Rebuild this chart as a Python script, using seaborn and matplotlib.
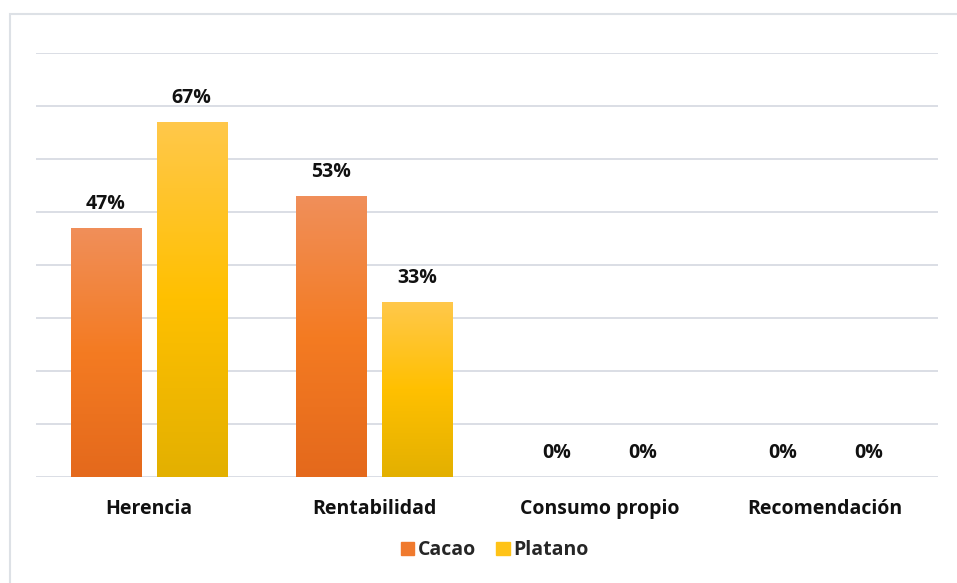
import matplotlib.pyplot as plt
import matplotlib.patches as mpatches
import numpy as np
import pandas as pd
import seaborn as sns
from matplotlib.colors import LinearSegmentedColormap

categories = ["Herencia", "Rentabilidad", "Consumo propio", "Recomendación"]
cacao = [0.47, 0.53, 0.0, 0.0]
platano = [0.67, 0.33, 0.0, 0.0]
series = ["Cacao", "Platano"]

# gradient stops (top -> bottom) per series
grads = {
    "Cacao": ["#F08F5A", "#F47B22", "#E4691C"],
    "Platano": ["#FFC84B", "#FFC000", "#E3B000"],
}
legend_cols = {"Cacao": "#F07A2E", "Platano": "#FFC317"}

df = pd.DataFrame({
    "categoria": categories * 2,
    "valor": cacao + platano,
    "serie": ["Cacao"] * 4 + ["Platano"] * 4,
})

sns.set_theme(style="white")
plt.rcParams["font.family"] = ["Open Sans", "DejaVu Sans"]
FS = 14

fig = plt.figure(figsize=(9.57, 5.83), dpi=100)
ax = fig.add_axes([0.0376, 0.1818, 0.9425, 0.7273])

sns.barplot(data=df, x="categoria", y="valor", hue="serie", hue_order=series,
            palette=["#F47B22", "#FFC000"], width=0.763, gap=0.186,
            ax=ax, legend=False, saturation=1)

ax.set_ylim(0, 0.8)
ax.set_xlim(-0.5, 3.5)
ax.set_yticks(np.arange(0, 0.81, 0.1))
ax.yaxis.grid(True, color="#DADEE5", linewidth=1.4)
ax.set_axisbelow(True)
ax.tick_params(axis="y", left=False, labelleft=False)
ax.tick_params(axis="x", bottom=False, pad=10)
for sp in ax.spines.values():
    sp.set_visible(False)
ax.set_xlabel("")
ax.set_ylabel("")
for lbl in ax.get_xticklabels():
    lbl.set_fontweight("bold")
    lbl.set_fontsize(FS)
    lbl.set_color("#111111")

# gradient fill clipped to each bar
for cont, name in zip(ax.containers, series):
    cmap = LinearSegmentedColormap.from_list(name, grads[name][::-1])
    for p in cont.patches:
        h = p.get_height()
        if h <= 0:
            p.set_visible(False)
            continue
        x0 = p.get_x()
        w = p.get_width()
        img = ax.imshow(np.linspace(0, 1, 256).reshape(-1, 1), cmap=cmap,
                        origin="lower", aspect="auto",
                        extent=[x0, x0 + w, 0, h], zorder=p.get_zorder())
        img.set_clip_path(p)
        p.set_facecolor("none")
        p.set_edgecolor("none")
    ax.bar_label(cont, labels=[f"{v * 100:.0f}%" for v in cont.datavalues],
                 padding=10, fontsize=FS, fontweight="bold", color="#111111")

ax.set_xlim(-0.5, 3.5)
ax.set_ylim(0, 0.8)

handles = [mpatches.Patch(color=legend_cols[s], label=s) for s in series]
fig.legend(handles=handles, loc="center", bbox_to_anchor=(0.517, 0.056),
           ncol=2, frameon=False, handlelength=0.7, handleheight=0.7,
           handletextpad=0.2, columnspacing=1.0,
           prop={"weight": "bold", "size": FS})

fig.patches.append(mpatches.Rectangle((10 / 957, -0.01), 1.0, 1 - 14 / 583 + 0.01,
                                      transform=fig.transFigure, fill=False,
                                      edgecolor="#DDE1E6", linewidth=1.5))

fig.savefig("out.png", dpi=100)
